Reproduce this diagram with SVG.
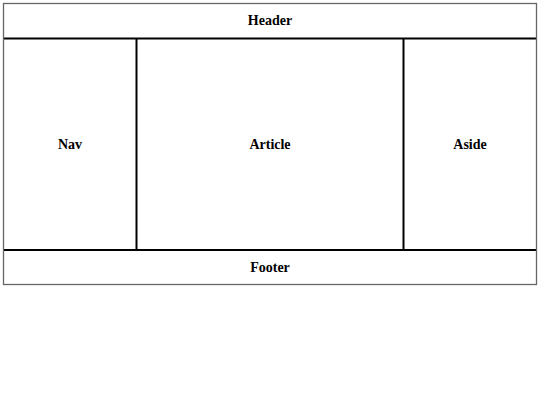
<svg xmlns="http://www.w3.org/2000/svg" width="540" height="405" viewBox="0 0 540 405">
<style>
.lbl{font-family:"Liberation Serif","Times New Roman",serif;font-weight:bold;font-size:14px;fill:#000;text-anchor:middle;dominant-baseline:central}
.div{stroke:#000;stroke-width:2;fill:none}
</style>
<rect x="0" y="0" width="540" height="405" fill="#fff"/>
<g id="connectors">
<line class="div" x1="3.5" y1="38.5" x2="536.5" y2="38.5"/>
<line class="div" x1="3.5" y1="250" x2="536.5" y2="250"/>
<line class="div" x1="136.5" y1="38.5" x2="136.5" y2="250"/>
<line class="div" x1="403.5" y1="38.5" x2="403.5" y2="250"/>
</g>
<rect x="3.5" y="3.5" width="533" height="281" fill="none" stroke="#666" stroke-width="1.3"/>
<g id="header"><text class="lbl" x="270" y="20.5">Header</text></g>
<g id="nav"><text class="lbl" x="70" y="144">Nav</text></g>
<g id="article"><text class="lbl" x="270" y="144">Article</text></g>
<g id="aside"><text class="lbl" x="470" y="144">Aside</text></g>
<g id="footer"><text class="lbl" x="270" y="267">Footer</text></g>
</svg>
